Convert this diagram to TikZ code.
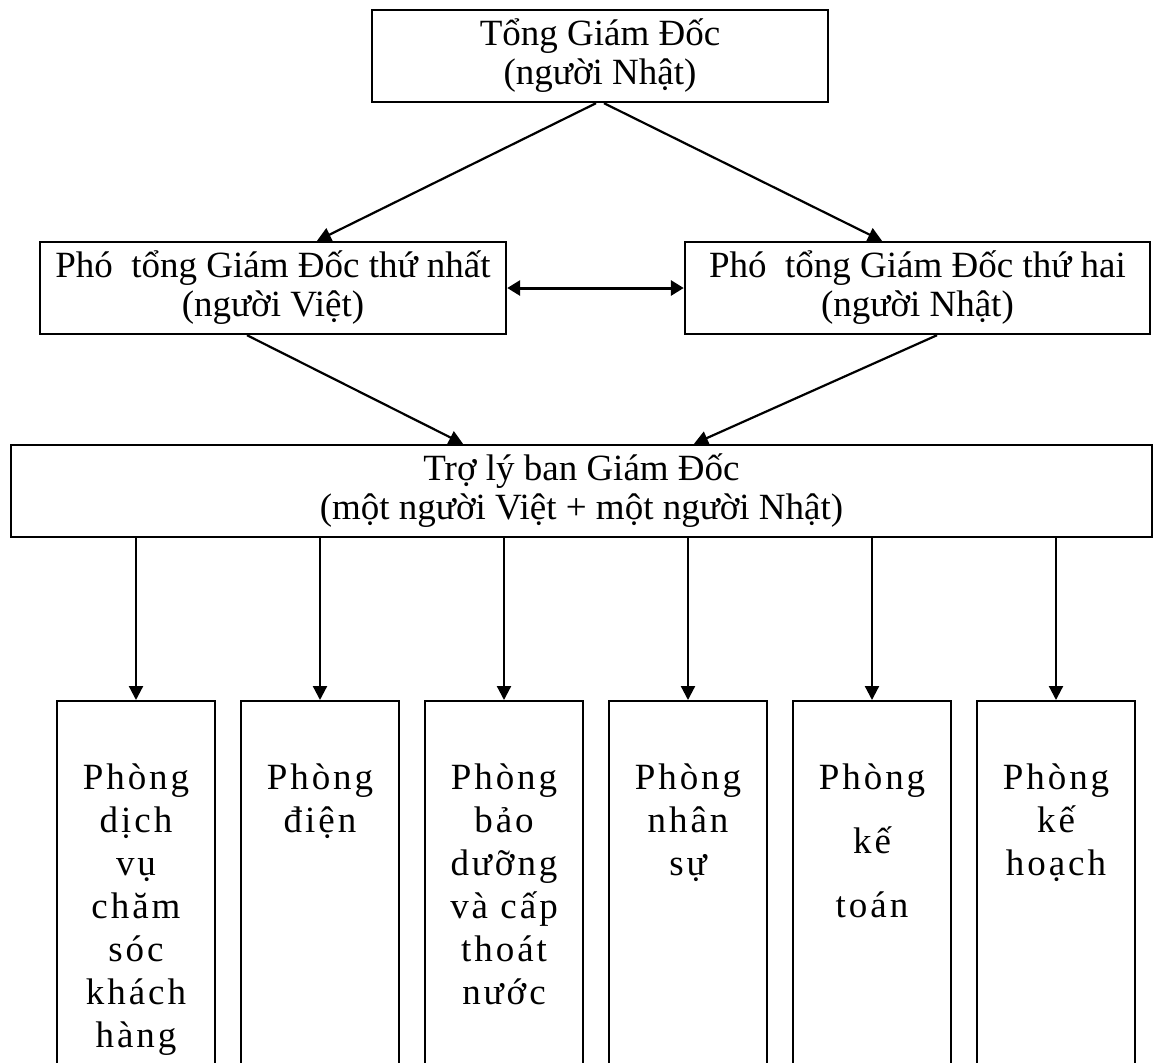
\documentclass[tikz,border=0pt]{standalone}
\usepackage{fontspec}
\setmainfont{Liberation Serif}
\newfontfamily\phongfont[LetterSpace=8]{Liberation Serif}
\usetikzlibrary{arrows.meta}

\begin{document}
\begin{tikzpicture}[x=0.5pt, y=-0.5pt,
    khung/.style={draw, line width=1.2pt, inner sep=0pt, align=center, font=\fontsize{18.5}{19.5}\selectfont},
    phong/.style={draw, line width=1.2pt, anchor=north, inner sep=0pt, text width=79pt, align=center, text height=44pt, text depth=190pt, font=\phongfont\fontsize{18.5}{21.5}\selectfont},
    muiten/.style={-{Triangle[length=7pt, width=7pt]}, line width=1.1pt}]
        \useasboundingbox (0,0) rectangle (1157,1062);
        \clip (0,0) rectangle (1157,1062);
        \node[khung, minimum width=228pt, minimum height=46pt] (tgd) at (600,56) {Tổng Giám Đốc\\(người Nhật)};
        \node[khung, minimum width=233pt, minimum height=46pt] (pho1) at (273,288) {Phó~ tổng Giám Đốc thứ nhất\\(người Việt)};
        \node[khung, minimum width=232.5pt, minimum height=46pt] (pho2) at (917.5,288) {Phó~ tổng Giám Đốc thứ hai\\(người Nhật)};
        \node[khung, minimum width=570.5pt, minimum height=46pt] (troly) at (581.5,491) {Trợ lý ban Giám Đốc\\(một người Việt + một người Nhật)};
        \node[phong] (p1) at (136,700) {Phòng\\dịch\\vụ\\chăm\\sóc\\khách\\hàng};
        \node[phong] (p2) at (320,700) {Phòng\\điện};
        \node[phong] (p3) at (504,700) {Phòng\\bảo\\dưỡng\\và cấp\\thoát\\nước};
        \node[phong] (p4) at (688,700) {Phòng\\nhân\\sự};
        \node[phong] (p5) at (872,700) {Phòng\\[10.5pt]kế\\[10.5pt]toán};
        \node[phong] (p6) at (1056,700) {Phòng\\kế\\hoạch};
        \draw[muiten] ([xshift=-2pt]tgd.south) -- ([xshift=22pt]pho1.north);
        \draw[muiten] ([xshift=2pt]tgd.south) -- ([xshift=-17.75pt]pho2.north);
        \draw[{Triangle[length=6.5pt, width=7.5pt]}-{Triangle[length=6.5pt, width=7.5pt]}, line width=1.5pt] (pho1.east) -- (pho2.west);
        \draw[muiten] ([xshift=-13pt]pho1.south) -- ([xshift=-59.25pt]troly.north);
        \draw[muiten] ([xshift=9.75pt]pho2.south) -- ([xshift=56.25pt]troly.north);
        \draw[muiten] (troly.south -| p1.north) -- (p1.north);
        \draw[muiten] (troly.south -| p2.north) -- (p2.north);
        \draw[muiten] (troly.south -| p3.north) -- (p3.north);
        \draw[muiten] (troly.south -| p4.north) -- (p4.north);
        \draw[muiten] (troly.south -| p5.north) -- (p5.north);
        \draw[muiten] (troly.south -| p6.north) -- (p6.north);
\end{tikzpicture}
\end{document}
